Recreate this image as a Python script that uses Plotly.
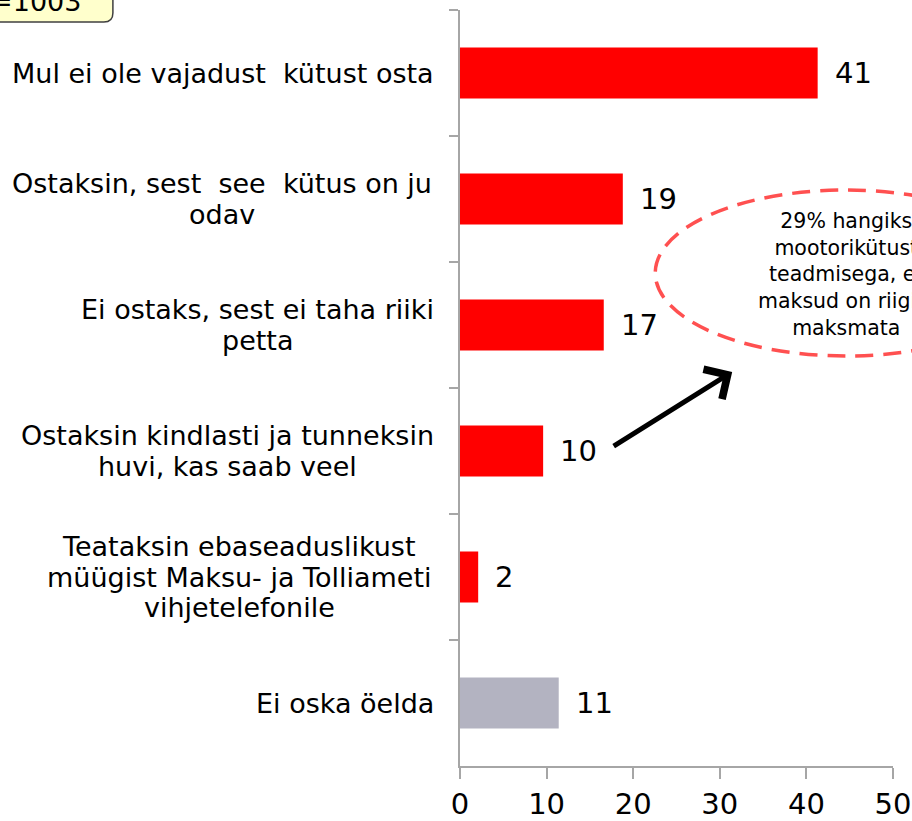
import plotly.graph_objects as go

# answers (top to bottom) and share of respondents, %
categories = [
    "Mul ei ole vajadust\u00a0 kütust osta",
    "Ostaksin, sest\u00a0 see\u00a0 kütus on ju<br>odav",
    "Ei ostaks, sest ei taha riiki<br>petta",
    "Ostaksin kindlasti ja tunneksin<br>huvi, kas saab veel",
    "Teataksin ebaseaduslikust<br>müügist Maksu- ja Tolliameti<br>vihjetelefonile",
    "Ei oska öelda",
]
values = [41.3, 18.8, 16.6, 9.6, 2.1, 11.4]
bar_colors = ["#ff0000", "#ff0000", "#ff0000", "#ff0000", "#ff0000", "#b3b3c1"]
x_ticks = [0, 10, 20, 30, 40, 50]
sample_note = "n=1003"
ellipse_note = "29% hangiks<br>mootorikütust<br>teadmisega, et<br>maksud on riigile<br>maksmata"

FONT = "DejaVu Sans, Verdana, sans-serif"
AXIS_GREY = "#a6a6a6"
LINE_GAP = 30.5          # px between lines of a category label
LABEL_RIGHT = 432        # right edge of the label blocks, px
label_block_w = [420, 422, 350, 410, 387, 176]  # widest line of each block, px

fig = go.Figure()
fig.add_trace(go.Bar(
    x=values,
    y=categories,
    orientation="h",
    width=0.405,
    marker=dict(color=bar_colors, line=dict(width=0)),
    hoverinfo="skip",
))

annotations = []
# category labels: one annotation per line, lines centred inside each block
for cat, w in zip(categories, label_block_w):
    lines = cat.split("<br>")
    n = len(lines)
    for i, line in enumerate(lines):
        annotations.append(dict(
            x=0, y=cat, xref="x", yref="y", xanchor="center", yanchor="middle",
            xshift=LABEL_RIGHT - w / 2 - 459.5, yshift=((n - 1) / 2 - i) * LINE_GAP,
            text=line, showarrow=False,
            font=dict(family=FONT, size=27, color="#000000"),
        ))
# value labels
for cat, v in zip(categories, values):
    annotations.append(dict(
        x=v, y=cat, xref="x", yref="y", xanchor="left", yanchor="middle",
        xshift=15, text=f"{v:.0f}", showarrow=False,
        font=dict(family=FONT, size=29, color="#000000"),
    ))

# plot area in px: x 459.5..893, y 10..766
def px_x(p):
    return (p - 459.5) / 433.5

def px_y(p):
    return (766 - p) / 756

annotations.append(dict(
    x=px_x(846), y=px_y(274), xref="paper", yref="paper",
    xanchor="center", yanchor="middle", text=ellipse_note, showarrow=False,
    align="center", font=dict(family=FONT, size=20.5, color="#000000"),
))
# arrow pointing at the ellipse
annotations.append(dict(
    x=px_x(732), y=px_y(372), xref="paper", yref="paper",
    ax=-120, ay=75, text="", showarrow=True,
    arrowhead=4, arrowsize=1.35, arrowwidth=5, arrowcolor="#000000",
))
# sample size box text
annotations.append(dict(
    x=px_x(82), y=px_y(19), xref="paper", yref="paper",
    xanchor="right", yanchor="bottom", text=sample_note, showarrow=False,
    font=dict(family=FONT, size=27, color="#000000"),
))

rx, ry = 9 / 433.5, 9 / 756
bx0, bx1, by0, by1 = px_x(-40), px_x(112), px_y(22), px_y(-30)
box_path = (f"M {bx0},{by1} L {bx1},{by1} L {bx1},{by0 + ry} "
            f"Q {bx1},{by0} {bx1 - rx},{by0} L {bx0},{by0} Z")

fig.update_layout(
    width=912,
    height=821,
    margin=dict(l=459.5, r=19, t=10, b=55, autoexpand=False),
    paper_bgcolor="white",
    plot_bgcolor="white",
    showlegend=False,
    font=dict(family=FONT, color="#000000"),
    annotations=annotations,
    shapes=[
        dict(type="circle", xref="paper", yref="paper",
             x0=px_x(655), x1=px_x(1037), y0=px_y(356), y1=px_y(190),
             line=dict(color="#ff5050", width=3.5, dash="18px,10px")),
        dict(type="path", xref="paper", yref="paper", path=box_path,
             fillcolor="#ffffcc", line=dict(color="#404040", width=1.5)),
    ],
    xaxis=dict(
        range=[0, 50],
        tickvals=x_ticks,
        showgrid=False,
        zeroline=False,
        showline=True,
        linecolor=AXIS_GREY,
        linewidth=1.5,
        ticks="outside",
        ticklen=11,
        tickcolor=AXIS_GREY,
        tickwidth=1.5,
        tickfont=dict(family=FONT, size=29, color="#000000"),
    ),
    yaxis=dict(
        autorange="reversed",
        showticklabels=False,
        showgrid=False,
        zeroline=False,
        showline=True,
        linecolor=AXIS_GREY,
        linewidth=1.5,
        ticks="outside",
        tickson="boundaries",
        ticklen=9,
        tickcolor=AXIS_GREY,
        tickwidth=1.5,
    ),
)

# drop the browser's default 8px body margin so the figure sits at the corner
fig.write_html("out.html", config={"displayModeBar": False},
               post_script="document.body.style.margin = '0';")
